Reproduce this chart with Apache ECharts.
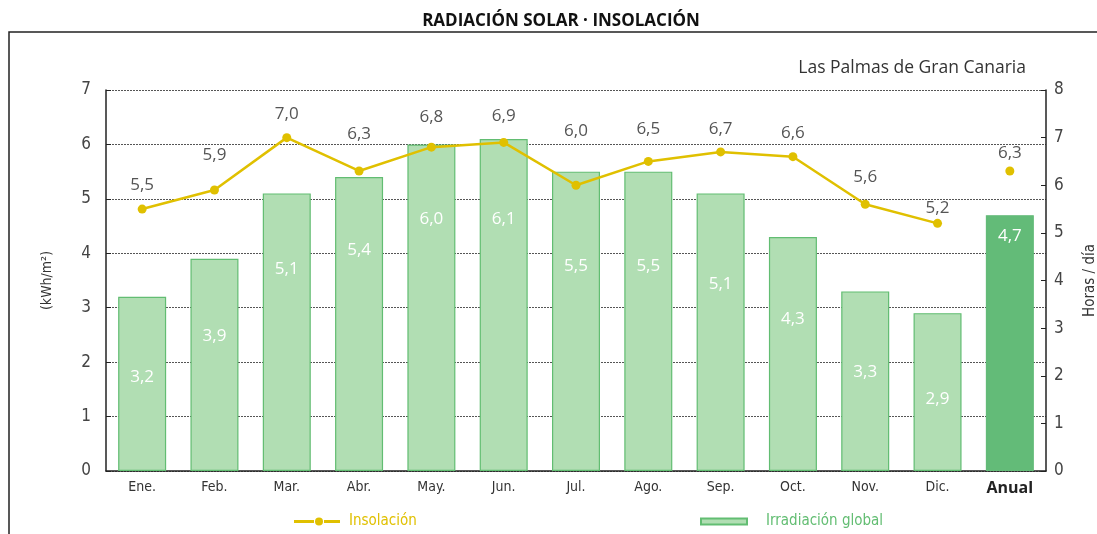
<!DOCTYPE html>
<html lang="es">
<head>
    <meta charset="UTF-8"/>
    <title>Radiación solar · Insolación</title>
    <script src="https://cdn.jsdelivr.net/npm/echarts@6/dist/echarts.min.js"></script>
    <style>
        html, body { margin: 0; padding: 0; background: #fff; }
        #chart { width: 1097px; height: 534px; }
    </style>
</head>
<body>
<div id="chart"></div>
<script type="text/javascript">
    // meses + anual
    var categorias = ['Ene.', 'Feb.', 'Mar.', 'Abr.', 'May.', 'Jun.', 'Jul.', 'Ago.', 'Sep.', 'Oct.', 'Nov.', 'Dic.', 'Anual'];
    // irradiación global (kWh/m²)
    var irradiacion = [3.2, 3.9, 5.1, 5.4, 6.0, 6.1, 5.5, 5.5, 5.1, 4.3, 3.3, 2.9];
    var irradiacionAnual = 4.7;
    // insolación (horas / día)
    var insolacion = [5.5, 5.9, 7.0, 6.3, 6.8, 6.9, 6.0, 6.5, 6.7, 6.6, 5.6, 5.2];
    var insolacionAnual = 6.3;
    var ticksIzq = [0, 1, 2, 3, 4, 5, 6, 7];
    var ticksDer = [0, 1, 2, 3, 4, 5, 6, 7, 8];

    // separación de las etiquetas (solo estilo)
    var distEtiquetaBarra = [72, 69, 67, 65, 66, 72, 86, 86, 82, 74, 72, 77];
    var distEtiquetaAnual = 12;
    var distEtiquetaLinea = [11, 22, 10, 24, 17, 13, 41, 19, 10, 11, 14, 2];
    var distEtiquetaLineaAnual = 5;

    var fuente = '"Liberation Sans Narrow", "DejaVu Sans Condensed", "Open Sans", sans-serif';
    var fuenteTexto = '"Open Sans", sans-serif';
    var amarillo = '#e0c000';
    var verdeClaro = '#b1deb3';
    var verdeBorde = '#62bd72';
    var verdeOscuro = '#63bb78';

    function coma(v) {
        return v.toFixed(1).replace('.', ',');
    }

    // barras: meses claros, anual oscuro
    var barras = irradiacion.map(function (v, i) {
        return {
            value: v,
            label: {position: 'insideTop', distance: distEtiquetaBarra[i]}
        };
    });
    barras.push({
        value: irradiacionAnual,
        itemStyle: {color: verdeOscuro, borderColor: verdeOscuro},
        label: {position: 'insideTop', distance: distEtiquetaAnual}
    });

    var linea = insolacion.map(function (v, i) {
        return {value: v, label: {distance: distEtiquetaLinea[i]}};
    });

    var lineaAnual = categorias.map(function (c, i) {
        return i === categorias.length - 1 ? {value: insolacionAnual, label: {distance: distEtiquetaLineaAnual}} : '-';
    });

    var myChart = echarts.init(document.getElementById('chart'));
    var option = {
        animation: false,
        textStyle: {fontFamily: fuente},
        title: [
            {
                text: 'RADIACIÓN SOLAR · INSOLACIÓN',
                left: 556, top: 8, textAlign: 'center',
                textStyle: {fontSize: 17, fontWeight: 'bold', color: '#111', fontFamily: fuenteTexto}
            },
            {
                text: 'Las Palmas de Gran Canaria',
                right: 66, top: 54,
                textStyle: {fontSize: 17.5, fontWeight: 'normal', color: '#333', fontFamily: fuenteTexto}
            }
        ],
        graphic: [
            {
                type: 'polyline',
                shape: {points: [[9, 534], [9, 32], [1097, 32]]},
                style: {stroke: '#222', lineWidth: 1.5, fill: null}
            }
        ],
        legend: [
            {
                data: [{
                    name: 'Insolación',
                    icon: 'path://M0,3.6L20,3.6L20,6.4L0,6.4Z M21,5A4,4 0 1,1 29,5A4,4 0 1,1 21,5Z M30,3.6L46,3.6L46,6.4L30,6.4Z'
                }],
                left: 289, top: 509,
                itemWidth: 46, itemHeight: 10,
                textStyle: {color: amarillo, fontSize: 15, fontFamily: fuente, padding: [0, 0, 0, 4]},
                selectedMode: false
            },
            {
                data: [{name: 'Irradiación global', icon: 'rect'}],
                left: 695, top: 509,
                itemWidth: 46, itemHeight: 6,
                textStyle: {color: verdeBorde, fontSize: 15, fontFamily: fuente, padding: [0, 0, 0, 14]},
                selectedMode: false
            }
        ],
        grid: {left: 106, right: 51, top: 90, bottom: 63, containLabel: false, outerBoundsMode: 'none'},
        xAxis: {
            type: 'category',
            data: categorias,
            axisLine: {lineStyle: {color: '#222', width: 1.5}},
            axisTick: {show: false},
            axisLabel: {
                color: '#333', fontSize: 14, margin: 9, interval: 0,
                formatter: function (v) { return v === 'Anual' ? '{b|' + v + '}' : v; },
                rich: {b: {fontWeight: 'bold', fontSize: 16, color: '#222', fontFamily: fuenteTexto}}
            }
        },
        yAxis: [
            {
                type: 'value', min: ticksIzq[0], max: ticksIzq[ticksIzq.length - 1], interval: 1,
                name: '(kWh/m²)', nameLocation: 'middle', nameGap: 52, nameRotate: 90,
                nameTextStyle: {color: '#333', fontSize: 14},
                axisLine: {show: true, lineStyle: {color: '#222', width: 1.5}},
                axisTick: {show: true, inside: true, length: 5, lineStyle: {color: '#222'}},
                axisLabel: {color: '#444', fontSize: 17, margin: 15, fontFamily: fuente},
                splitLine: {show: true, lineStyle: {color: '#555', type: [2, 1], width: 1}}
            },
            {
                type: 'value', min: ticksDer[0], max: ticksDer[ticksDer.length - 1], interval: 1,
                name: 'Horas / día', nameLocation: 'middle', nameGap: 37, nameRotate: 90,
                nameTextStyle: {color: '#333', fontSize: 15},
                axisLine: {show: true, lineStyle: {color: '#222', width: 1.5}},
                axisTick: {show: true, inside: true, length: 5, lineStyle: {color: '#222'}},
                axisLabel: {color: '#444', fontSize: 17, margin: 8, fontFamily: fuente},
                splitLine: {show: false}
            }
        ],
        series: [
            {
                name: 'Irradiación global',
                type: 'bar',
                yAxisIndex: 0,
                data: barras,
                barWidth: 48,
                itemStyle: {color: verdeClaro, borderColor: verdeBorde, borderWidth: 1.2},
                label: {
                    show: true, color: '#fff', fontSize: 17,
                    fontFamily: fuenteTexto,
                    formatter: function (p) { return coma(p.value); }
                },
                z: 2
            },
            {
                name: 'Insolación',
                type: 'line',
                yAxisIndex: 1,
                data: linea,
                symbol: 'circle', symbolSize: 9,
                lineStyle: {color: amarillo, width: 2.5},
                itemStyle: {color: amarillo},
                label: {
                    show: true, position: 'top', color: '#555', fontSize: 17,
                    fontFamily: fuenteTexto,
                    formatter: function (p) { return coma(p.value); }
                },
                z: 5
            },
            {
                name: 'Insolación',
                type: 'line',
                yAxisIndex: 1,
                data: lineaAnual,
                symbol: 'circle', symbolSize: 9,
                showSymbol: true,
                lineStyle: {color: amarillo, width: 2.5},
                itemStyle: {color: amarillo},
                label: {
                    show: true, position: 'top', color: '#555', fontSize: 17,
                    fontFamily: fuenteTexto,
                    formatter: function (p) { return coma(p.value); }
                },
                z: 5
            }
        ]
    };
    myChart.setOption(option);
</script>
</body>
</html>
